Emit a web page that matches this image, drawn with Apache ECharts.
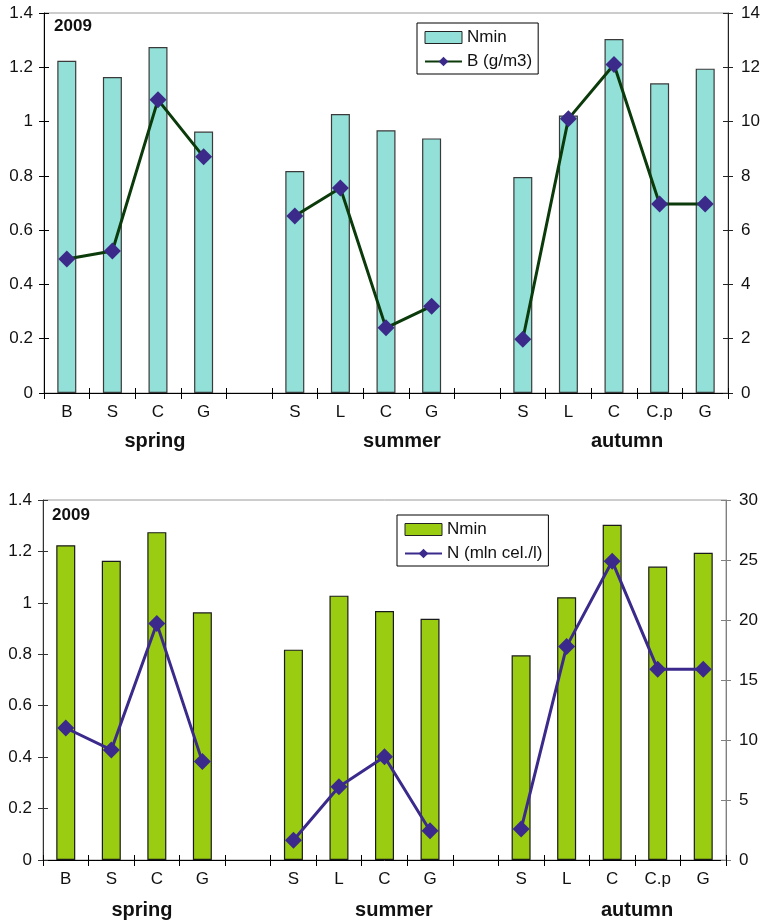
<!DOCTYPE html>
<html>
<head>
<meta charset="utf-8">
<script src="https://cdn.jsdelivr.net/npm/echarts@6/dist/echarts.min.js"></script>
<style>
  html, body { margin: 0; padding: 0; background: #fff; }
  #chart { width: 765px; height: 922px; }
</style>
</head>
<body>
<div id="chart"></div>
<script>
// Sampling sites per season; empty entries separate the seasons.
const categories = ['B', 'S', 'C', 'G', '', 'S', 'L', 'C', 'G', '', 'S', 'L', 'C', 'C.p', 'G'];
const seasons = ['spring', 'summer', 'autumn'];
const yearLabel = '2009';

// Mineral nitrogen (left axis, both panels)
const nmin = [1.224, 1.164, 1.275, 0.963, null, 0.818, 1.028, 0.968, 0.938, null, 0.796, 1.022, 1.304, 1.141, 1.195];
// Phytoplankton biomass, g/m3 (right axis, upper panel)
const biomass = [4.94, 5.23, 10.8, 8.7, null, 6.52, 7.55, 2.4, 3.2, null, 1.98, 10.1, 12.1, 6.96, 6.96];
// Cell abundance, mln cells/l (right axis, lower panel)
const cells = [11.0, 9.17, 19.7, 8.2, null, 1.64, 6.1, 8.6, 2.44, null, 2.58, 17.8, 24.9, 15.9, 15.9];

// Axis ranges: [min, max, interval]
const nminTicks = [0, 1.4, 0.2];
const biomassTicks = [0, 14, 2];
const cellsTicks = [0, 30, 5];

const FONT = 'Liberation Sans, Arial, sans-serif';

const topRect = { left: 44, top: 13, width: 684, height: 380 };
const botRect = { left: 43, top: 500, width: 683, height: 360 };

function grid(rect, framed) {
  return Object.assign({
    show: framed,
    borderColor: '#9a9a9a',
    borderWidth: 1,
    backgroundColor: 'transparent',
    containLabel: false
  }, rect);
}

function catAxis(gi, overlay) {
  if (overlay) {
    return {
      type: 'category', gridIndex: gi, data: categories,
      axisLine: { show: false },
      axisTick: { show: true, inside: true, length: 5, interval: 0, lineStyle: { color: '#000', width: 1 } },
      axisLabel: { show: false },
      splitLine: { show: false }
    };
  }
  return {
    type: 'category', gridIndex: gi, data: categories, boundaryGap: true,
    axisLine: { show: true, lineStyle: { color: '#000', width: 1 } },
    axisTick: { show: true, length: 6, interval: 0, alignWithLabel: false, lineStyle: { color: '#000', width: 1 } },
    axisLabel: { interval: 0, fontSize: 17, fontFamily: FONT, color: '#111', margin: 11 },
    splitLine: { show: false }
  };
}

function valAxis(gi, pos, ticks, color, overlay) {
  const base = {
    type: 'value', gridIndex: gi, position: pos,
    min: ticks[0], max: ticks[1], interval: ticks[2],
    splitLine: { show: false }
  };
  if (overlay) {
    return Object.assign(base, {
      axisLine: { show: false },
      axisTick: { show: true, inside: true, length: 5, lineStyle: { color: color, width: 1 } },
      axisLabel: { show: false }
    });
  }
  return Object.assign(base, {
    axisLine: { show: true, lineStyle: { color: color, width: 1 } },
    axisTick: { show: true, length: 5, lineStyle: { color: color, width: 1 } },
    axisLabel: { fontSize: 17, fontFamily: FONT, color: '#111', margin: pos === 'left' ? 11 : 13 }
  });
}

function legend(left, top, lineName, barColor) {
  return {
    orient: 'vertical', left: left, top: top,
    backgroundColor: '#fff', borderColor: '#000', borderWidth: 1,
    padding: [6, 6, 4, 7], itemGap: 7, itemWidth: 37, itemHeight: 12,
    selectedMode: false,
    textStyle: { fontSize: 17, fontFamily: FONT, color: '#111' },
    data: [
      { name: 'Nmin', icon: 'rect', itemStyle: { color: barColor, borderColor: '#222', borderWidth: 1 } },
      { name: lineName }
    ]
  };
}

function text(x, y, s, size, bold) {
  return {
    type: 'text', x: x, y: y, silent: true,
    style: { text: s, fontSize: size, fontWeight: bold ? 'bold' : 'normal', fontFamily: FONT, fill: '#111', align: 'center', verticalAlign: 'middle' }
  };
}

const option = {
  animation: false,
  backgroundColor: '#fff',
  grid: [grid(topRect, true), grid(topRect, false), grid(botRect, true), grid(botRect, false)],
  xAxis: [catAxis(0, false), catAxis(1, true), catAxis(2, false), catAxis(3, true)],
  yAxis: [
    valAxis(0, 'left', nminTicks, '#000', false),
    valAxis(0, 'right', biomassTicks, '#222', false),
    valAxis(1, 'left', nminTicks, '#000', true),
    valAxis(1, 'right', biomassTicks, '#222', true),
    valAxis(2, 'left', nminTicks, '#333', false),
    valAxis(2, 'right', cellsTicks, '#808080', false),
    valAxis(3, 'left', nminTicks, '#333', true),
    valAxis(3, 'right', cellsTicks, '#808080', true)
  ],
  legend: [
    legend(417, 23, 'B (g/m3)', '#93e0d8'),
    legend(397, 515, 'N (mln cel./l)', '#9acd12')
  ],
  series: [
    {
      name: 'Nmin', type: 'bar', xAxisIndex: 0, yAxisIndex: 0, data: nmin, barWidth: 19,
      itemStyle: { color: '#93e0d8', borderColor: '#3a3a3a', borderWidth: 1.2 }
    },
    {
      name: 'B (g/m3)', type: 'line', xAxisIndex: 0, yAxisIndex: 1, data: biomass, connectNulls: false,
      symbol: 'diamond', symbolSize: 17, z: 5,
      lineStyle: { color: '#0b3a0b', width: 3 },
      itemStyle: { color: '#3b2a8a' }
    },
    {
      name: 'Nmin', type: 'bar', xAxisIndex: 2, yAxisIndex: 4, data: nmin, barWidth: 19,
      itemStyle: { color: '#9acd12', borderColor: '#1a1a1a', borderWidth: 1.2 }
    },
    {
      name: 'N (mln cel./l)', type: 'line', xAxisIndex: 2, yAxisIndex: 5, data: cells, connectNulls: false,
      symbol: 'diamond', symbolSize: 17, z: 5,
      lineStyle: { color: '#3b2a8c', width: 3 },
      itemStyle: { color: '#3b2a8c' }
    }
  ],
  graphic: [
    text(73, 26, yearLabel, 17, true),
    text(71, 515, yearLabel, 17, true),
    text(155, 441, seasons[0], 20, true),
    text(402, 441, seasons[1], 20, true),
    text(627, 441, seasons[2], 20, true),
    text(142, 910, seasons[0], 20, true),
    text(394, 910, seasons[1], 20, true),
    text(637, 910, seasons[2], 20, true)
  ]
};

const chart = echarts.init(document.getElementById('chart'), null, { renderer: 'canvas' });
chart.setOption(option);
</script>
</body>
</html>
